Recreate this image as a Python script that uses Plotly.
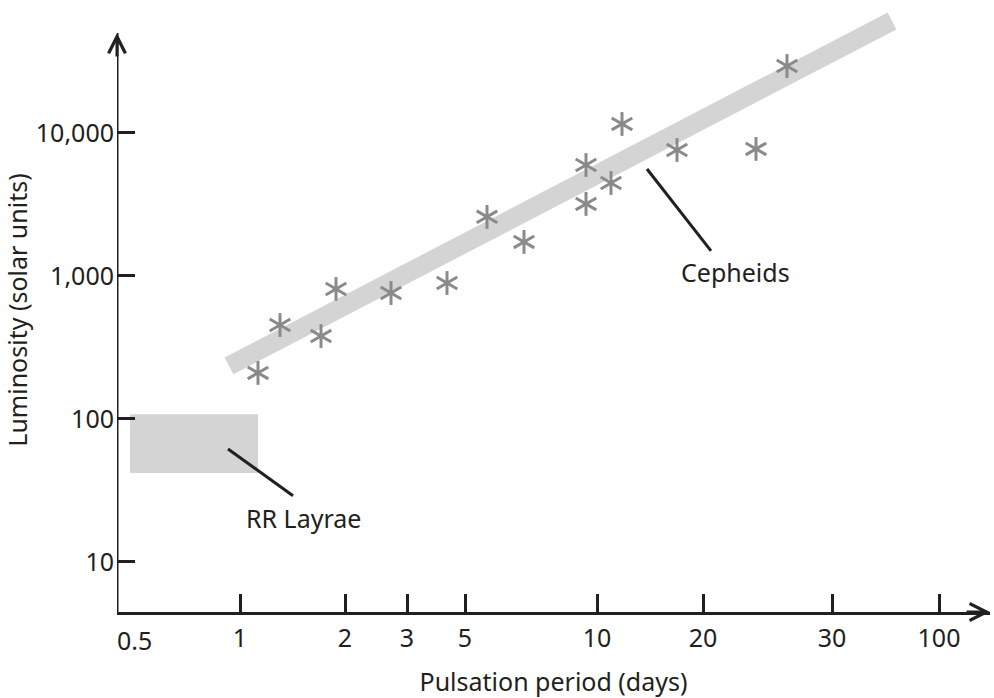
import math
import plotly.graph_objects as go

# Schematic (non-uniform) period axis: positions along axis and their labels
tick_pos = [123, 228, 290, 348, 480, 586, 715, 822]
tick_text = ["1", "2", "3", "5", "10", "20", "30", "100"]
origin_label_pos = 17
origin_label = "0.5"

lum_ticks = [10, 100, 1000, 10000]
lum_text = ["10", "100", "1,000", "10,000"]

# Cepheid stars (axis position, luminosity)
ceph_x = [141, 163, 204, 219, 274, 330, 370, 407, 469, 469, 494, 505, 560, 639, 670]
ceph_y = [210, 454, 380, 811, 760, 893, 2590, 1730, 5970, 3190, 4470, 11560, 7600, 7730, 29400]

# Cepheid band (trend)
band_x = [112, 775]
band_y = [235, 60700]

# RR Lyrae region
rr_x = [13, 141]
rr_y = [41.9, 108]

# Label leader lines and label anchors
rr_lead_x = [111, 176]
rr_lead_y = [61.7, 29.0]
ce_lead_x = [530, 594]
ce_lead_y = [5600, 1496]
ce_label = ("Cepheids", 618, 1067)
rr_label = ("RR Layrae", 186, 20.3)

INK = "#231f20"
GREY_FILL = "#d4d4d4"
STAR = "#8a8a8a"
FONT = "Noto Sans"
FS = 25

Y_LO, Y_HI = 0.650, 4.874
AXIS_TOP = 4.70  # log10 where y axis arrow ends

fig = go.Figure()

fig.add_trace(go.Scatter(
    x=[rr_x[0], rr_x[1], rr_x[1], rr_x[0], rr_x[0]],
    y=[rr_y[0], rr_y[0], rr_y[1], rr_y[1], rr_y[0]],
    fill="toself", fillcolor=GREY_FILL, mode="lines",
    line=dict(width=0, color=GREY_FILL), hoverinfo="skip", showlegend=False))

fig.add_trace(go.Scatter(
    x=band_x, y=band_y, mode="lines",
    line=dict(color=GREY_FILL, width=19), hoverinfo="skip", showlegend=False))

for ang in [0, 60, 120]:
    fig.add_trace(go.Scatter(
        x=ceph_x, y=ceph_y, mode="markers",
        marker=dict(symbol="line-ns-open", size=17, angle=ang, color=STAR,
                    line=dict(color=STAR, width=3)),
        showlegend=False))

for lx, ly in [(rr_lead_x, rr_lead_y), (ce_lead_x, ce_lead_y)]:
    fig.add_trace(go.Scatter(
        x=lx, y=ly, mode="lines", line=dict(color=INK, width=3),
        hoverinfo="skip", showlegend=False))

for txt, lx, ly in [ce_label, rr_label]:
    fig.add_annotation(x=lx, y=math.log10(ly), xref="x", yref="y",
                       yanchor="middle", text=txt, showarrow=False,
                       font=dict(family=FONT, size=FS, color=INK))

fig.add_annotation(x=origin_label_pos, y=0, xref="x", yref="paper",
                   yanchor="top", yshift=-9,
                   text=origin_label, showarrow=False,
                   font=dict(family=FONT, size=FS, color=INK))

# y axis line (x axis uses the built-in line)
top_paper = (AXIS_TOP - Y_LO) / (Y_HI - Y_LO)
fig.add_shape(type="line", xref="x", yref="paper", x0=0, x1=0,
              y0=0, y1=top_paper, line=dict(color=INK, width=3))

# axis arrowheads
fig.add_annotation(x=0, y=top_paper, xref="x", yref="paper", ax=0, ay=25,
                   text="", showarrow=True, arrowhead=5, arrowsize=1.1,
                   arrowwidth=3, arrowcolor=INK)
fig.add_annotation(x=1, y=0, xref="paper", yref="paper", ax=-25, ay=0,
                   text="", showarrow=True, arrowhead=5, arrowsize=1.1,
                   arrowwidth=3, arrowcolor=INK)

fig.update_layout(
    width=994, height=698,
    margin=dict(l=117, r=4, t=8, b=86),
    paper_bgcolor="white", plot_bgcolor="white",
    font=dict(family=FONT, size=FS, color=INK),
    xaxis=dict(range=[0, 873], tickmode="array", tickvals=tick_pos,
               ticktext=tick_text, ticks="inside", ticklen=18, tickwidth=3,
               tickcolor=INK, showline=True, linewidth=3, linecolor=INK,
               showgrid=False, zeroline=False, ticklabelstandoff=2,
               title=dict(text="Pulsation period (days)", standoff=22,
                          font=dict(size=FS))),
    yaxis=dict(type="log", range=[Y_LO, Y_HI], tickmode="array",
               tickvals=lum_ticks, ticktext=lum_text, ticks="inside",
               ticklen=18, tickwidth=3, tickcolor=INK, showline=False,
               showgrid=False, zeroline=False, ticklabelstandoff=2,
               title=dict(text="Luminosity (solar units)", standoff=2,
                          font=dict(size=FS))),
)

fig.write_html("out.html")
